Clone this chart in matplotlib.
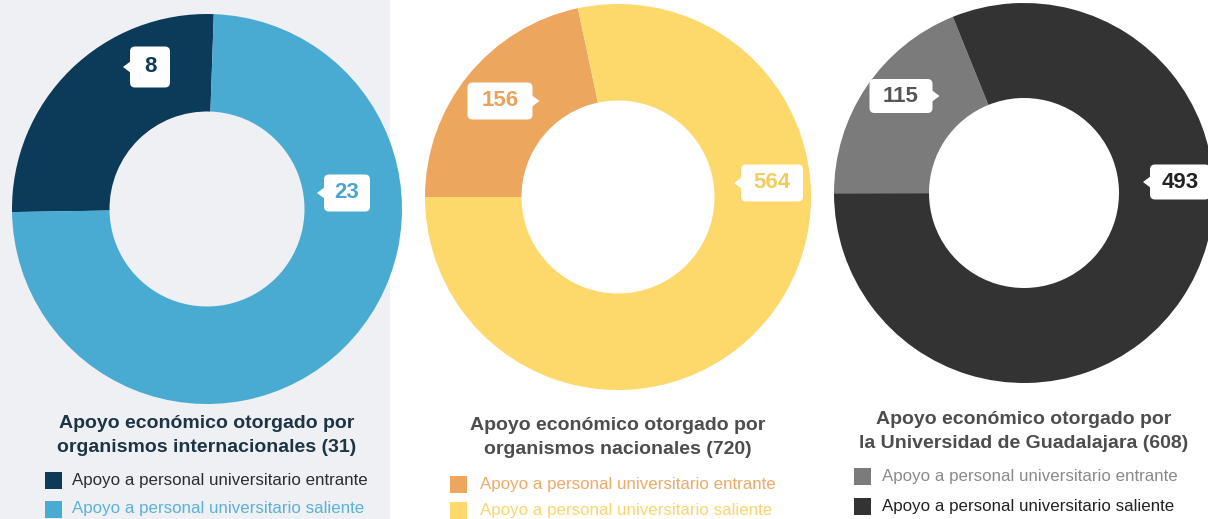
import matplotlib
matplotlib.use("Agg")
import matplotlib.pyplot as plt
from matplotlib.patches import Rectangle, FancyBboxPatch, Polygon

plt.rcParams['font.family'] = ['Liberation Sans', 'DejaVu Sans']

# ---------------- data ----------------
categories = ["Apoyo a personal universitario entrante",
              "Apoyo a personal universitario saliente"]
internacionales = [8, 23]
nacionales = [156, 564]
universidad = [115, 493]
title_lines = [
    ["Apoyo económico otorgado por", "organismos internacionales (31)"],
    ["Apoyo económico otorgado por", "organismos nacionales (720)"],
    ["Apoyo económico otorgado por", "la Universidad de Guadalajara (608)"],
]
series = [internacionales, nacionales, universidad]

# ---------------- style / layout ----------------
W, H = 1208, 519
colors = [["#0b3b58", "#4aabd2"],
          ["#eda65e", "#fdd86a"],
          ["#7b7b7b", "#333333"]]
label_colors = [["#0e3b57", "#4aa6cf"],
                ["#e8a25c", "#f1cd5e"],
                ["#555555", "#222222"]]
title_colors = ["#1d3444", "#4d4d4d", "#4d4d4d"]
legend_text_colors = [["#2d2d2d", "#5ab2d8"],
                      ["#eeaa66", "#f8d56e"],
                      ["#8a8a8a", "#222222"]]
# center (px from left, px from top), radius, start angle
centers = [(207, 209), (618, 197), (1024, 193)]
radii = [195, 193, 190]
starts = [88, 102, 112]
# callout boxes: (cx, cy, w, h, pointer side) per wedge
callouts = [
    [(150, 67, 40, 41, 'left'), (347, 193, 46, 37, 'left')],
    [(500, 101, 65, 37, 'right'), (772, 183, 62, 37, 'left')],
    [(901, 96, 63, 34, 'right'), (1180, 182, 60, 35, 'left')],
]
title_y = [(424, 447), (426, 449), (420, 443)]
legend_y = [(480, 509), (484, 510), (476, 506)]
legend_x = [(45, 72), (450, 480), (854, 882)]


def Y(y):
    return H - y


fig = plt.figure(figsize=(W / 100, H / 100), dpi=100)
fig.patch.set_facecolor("white")
ax = fig.add_axes([0, 0, 1, 1])

# light grey panel behind first chart
ax.add_patch(Rectangle((0, 0), 390, H, facecolor="#eef0f3", edgecolor="none", zorder=0))

for i, vals in enumerate(series):
    cx, cy = centers[i]
    R = radii[i]
    ax.pie(vals, colors=colors[i], startangle=starts[i], counterclock=True,
           radius=R, center=(cx, Y(cy)), frame=True,
           wedgeprops=dict(width=R * 0.5, edgecolor="none", linewidth=0))

    # callout labels
    for j, v in enumerate(vals):
        bx, by, bw, bh, side = callouts[i][j]
        by = Y(by)
        ax.add_patch(FancyBboxPatch((bx - bw / 2, by - bh / 2), bw, bh,
                                    boxstyle="round,pad=0,rounding_size=5",
                                    facecolor="white", edgecolor="none", zorder=5))
        if side == 'left':
            x0 = bx - bw / 2
            tri = [(x0 + 1, by - 6), (x0 - 7, by), (x0 + 1, by + 6)]
        else:
            x0 = bx + bw / 2
            tri = [(x0 - 1, by - 6), (x0 + 7, by), (x0 - 1, by + 6)]
        ax.add_patch(Polygon(tri, closed=True, facecolor="white", edgecolor="none", zorder=5))
        ax.text(bx, by, str(v), ha="center", va="center", fontsize=16,
                fontweight="bold", color=label_colors[i][j], zorder=6)

    # titles
    for k, line in enumerate(title_lines[i]):
        ax.text(cx, Y(title_y[i][k]), line, ha="center", va="center",
                fontsize=14, fontweight="bold", color=title_colors[i])

    # legend
    sx, tx = legend_x[i]
    for j, cat in enumerate(categories):
        ly = Y(legend_y[i][j])
        ax.add_patch(Rectangle((sx, ly - 8.5), 17, 17, facecolor=colors[i][j],
                               edgecolor="none", zorder=3))
        ax.text(tx, ly, cat, ha="left", va="center", fontsize=12.2,
                color=legend_text_colors[i][j])

ax.set_xlim(0, W)
ax.set_ylim(0, H)
ax.set_aspect("auto")
ax.axis("off")

fig.savefig("out.png", dpi=100, facecolor="white")
